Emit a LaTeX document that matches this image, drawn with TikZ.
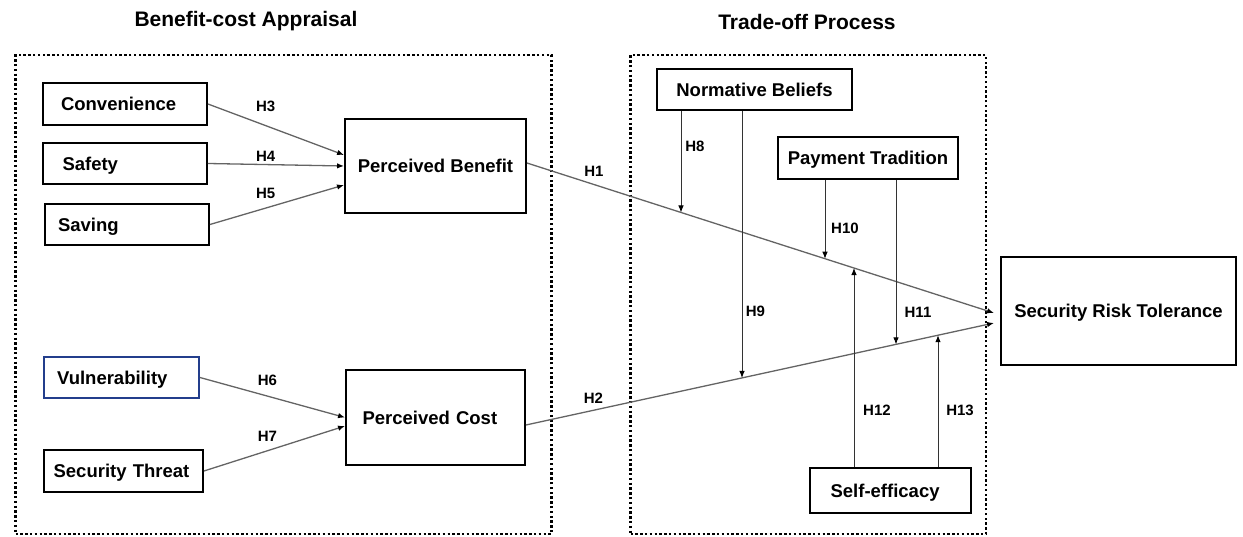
\documentclass[tikz,border=0pt]{standalone}
\usepackage{fontspec}
\setmainfont{Liberation Sans}
\usetikzlibrary{arrows.meta,intersections}

\definecolor{vulblue}{RGB}{35,62,140}
\definecolor{linkgray}{RGB}{100,100,100}

\tikzset{
  box/.style={draw=black, line width=1.9pt, inner ysep=0pt,
    text height=13.3pt, text depth=0pt,
    font=\fontsize{18.5}{22}\selectfont\bfseries},
  lbox/.style={box, align=left},
  group/.style={draw=black, line width=2.4pt, dash pattern=on 2.4pt off 2.4pt},
  heading/.style={font=\fontsize{21}{25}\selectfont\bfseries, anchor=base},
  hyp/.style={font=\fontsize{15}{18}\selectfont\bfseries, anchor=base, inner sep=0pt},
  link/.style={draw=linkgray, line width=1.3pt, -{Latex[length=7pt,width=5.5pt,color=black]}},
  moderator/.style={draw=black!80, line width=0.85pt, -{Latex[length=7pt,width=5.5pt,color=black]}}
}

\begin{document}
\begin{tikzpicture}[x=1pt,y=-1pt]
\useasboundingbox (0,0) rectangle (1243,537);

% group frames and headings
\node[group, minimum width=536pt, minimum height=479pt] (bca) at (283.5,294.5) {};
\node[group, minimum width=355.5pt, minimum height=479pt] (top) at (808.25,294.5) {};
\node[heading] (bcatitle) at (246,26.7) {Benefit-cost Appraisal};
\node[heading] (toptitle) at (807,29.3) {Trade-off Process};

% antecedents
\node[lbox, text width=128pt, inner xsep=18pt, minimum height=42pt] (conv) at (125,104) {Convenience};
\node[lbox, text width=125pt, inner xsep=19.5pt, minimum height=41pt] (safe) at (125,163.5) {Safety};
\node[lbox, text width=138pt, inner xsep=13pt, minimum height=41pt] (sav) at (127,224.5) {Saving};
\node[lbox, draw=vulblue, text width=128.4pt, inner xsep=13.5pt, minimum height=41pt] (vul) at (121.3,377.5) {Vulnerability};
\node[lbox, text width=139.4pt, inner xsep=10pt, minimum height=42pt] (thr) at (123.3,471) {Security Threat};

% appraisal constructs
\node[box, minimum width=181pt, minimum height=94pt] (pb) at (435.5,166) {Perceived Benefit};
\node[lbox, text width=146pt, inner xsep=16.5pt, minimum height=95pt] (pc) at (435.5,417.5) {Perceived Cost};

% moderators and outcome
\node[box, minimum width=195pt, minimum height=41pt] (nb) at (754.5,89.5) {Normative Beliefs};
\node[box, minimum width=180pt, minimum height=42pt] (pt) at (868,158) {Payment Tradition};
\node[lbox, text width=119.8pt, inner xsep=20.6pt, minimum height=45pt] (se) at (890.5,490.5) {Self-efficacy};
\node[box, minimum width=235pt, minimum height=108pt] (srt) at (1118.5,311) {Security Risk Tolerance};

% paths into the appraisal constructs
\draw[link] (conv.east) -- ([yshift=11pt]pb.west);
\draw[link] (safe.east) -- (pb.west);
\draw[link] (sav.east) -- ([yshift=-19pt]pb.west);
\draw[link] (vul.east) -- (pc.west);
\draw[link] (thr.east) -- ([yshift=-8.5pt]pc.west);

% main paths to the outcome
\coordinate (b1) at ([yshift=3pt]pb.east);
\coordinate (e1) at ([xshift=-6pt,yshift=-2pt]srt.west);
\coordinate (b2) at ([yshift=-7.5pt]pc.east);
\coordinate (e2) at ([xshift=-6pt,yshift=-12pt]srt.west);
\draw[link, name path=l1] (b1) -- (e1);
\draw[link, name path=l2] (b2) -- (e2);

% moderating paths
\coordinate (s8) at ([xshift=-73.5pt]nb.south);
\coordinate (s9) at ([xshift=-12.5pt]nb.south);
\coordinate (s10) at ([xshift=-43pt]pt.south);
\coordinate (s11) at ([xshift=28pt]pt.south);
\coordinate (s12) at ([xshift=-36.5pt]se.north);
\coordinate (s13) at ([xshift=47.5pt]se.north);
\path[name path=v8] (s8) -- ++(0,400);
\path[name path=v9] (s9) -- ++(0,400);
\path[name path=v10] (s10) -- ++(0,400);
\path[name path=v11] (s11) -- ++(0,400);
\path[name path=v12] (s12) -- ++(0,-400);
\path[name path=v13] (s13) -- ++(0,-400);
\draw[moderator, name intersections={of=v8 and l1}] (s8) -- (intersection-1);
\draw[moderator, name intersections={of=v9 and l2}] (s9) -- (intersection-1);
\draw[moderator, name intersections={of=v10 and l1}] (s10) -- (intersection-1);
\draw[moderator, name intersections={of=v11 and l2}] (s11) -- (intersection-1);
\draw[moderator, name intersections={of=v12 and l1}] (s12) -- (intersection-1);
\draw[moderator, name intersections={of=v13 and l2}] (s13) -- (intersection-1);

% hypothesis labels
\node[hyp] (h1) at (594,177) {H1};
\node[hyp] (h2) at (593.5,403) {H2};
\node[hyp] (h3) at (265.7,111.7) {H3};
\node[hyp] (h4) at (265.7,161.7) {H4};
\node[hyp] (h5) at (265.7,199) {H5};
\node[hyp] (h6) at (267.5,385) {H6};
\node[hyp] (h7) at (267.5,442) {H7};
\node[hyp] (h8) at (695,151.7) {H8};
\node[hyp] (h9) at (755.5,316.7) {H9};
\node[hyp] (h10) at (845,233.3) {H10};
\node[hyp] (h11) at (918,318) {H11};
\node[hyp] (h12) at (877,416) {H12};
\node[hyp] (h13) at (960,416) {H13};
\end{tikzpicture}
\end{document}
